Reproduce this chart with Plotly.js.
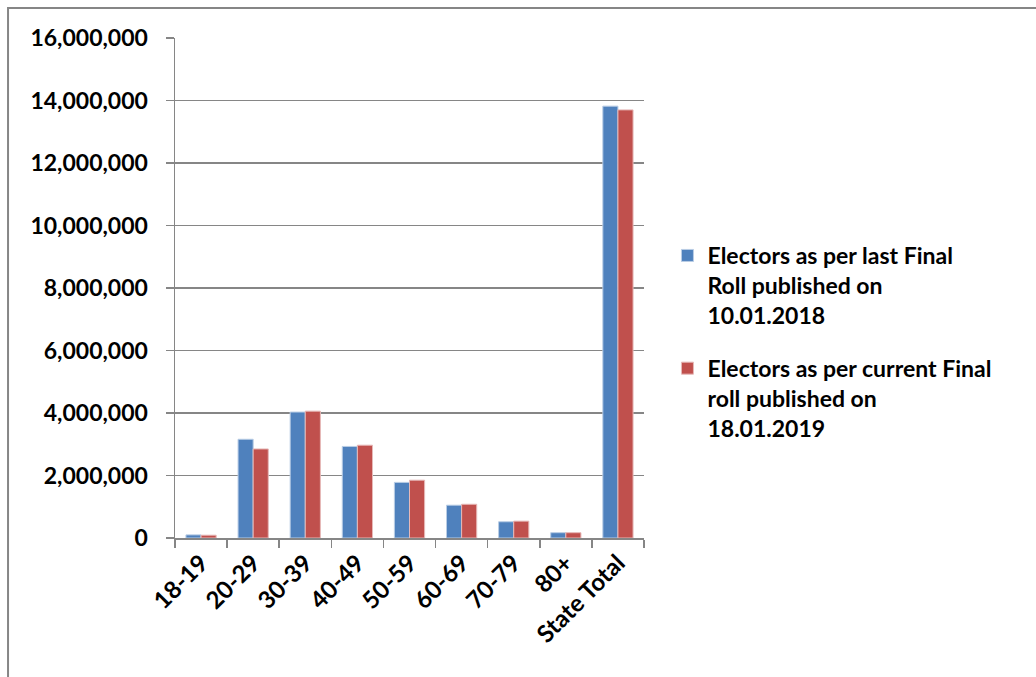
<!DOCTYPE html>
<html>
<head>
<meta charset="utf-8">
<script src="https://cdn.plot.ly/plotly-3.0.1.min.js"></script>
<style>html,body{margin:0;padding:0;background:#fff;}#chart{width:1036px;height:677px;}</style>
</head>
<body>
<div id="chart"></div>
<script>
const categories = ["18-19", "20-29", "30-39", "40-49", "50-59", "60-69", "70-79", "80+", "State Total"];
const electors2018 = [100000, 3160000, 4030000, 2930000, 1780000, 1050000, 520000, 170000, 13820000];
const electors2019 = [90000, 2850000, 4060000, 2970000, 1850000, 1080000, 540000, 170000, 13700000];
const seriesNames = [
  "Electors as per last Final<br>Roll published on<br>10.01.2018",
  "Electors as per current Final<br>roll published on<br>18.01.2019"
];

const fontFamily = "Lato, 'Open Sans', sans-serif";
const traces = [
  {type: "bar", x: categories, y: electors2018, name: seriesNames[0], legendgroup: "g1",
   marker: {color: "#4F81BD", line: {color: "#B9CDE5", width: 1}}},
  {type: "bar", x: categories, y: electors2019, name: seriesNames[1], legendgroup: "g2",
   marker: {color: "#C0504D", line: {color: "#E6B9B8", width: 1}}}
];

const layout = {
  width: 1036, height: 677,
  margin: {l: 175, r: 392, t: 38, b: 139},
  paper_bgcolor: "#fff", plot_bgcolor: "#fff",
  font: {family: fontFamily, size: 23, color: "#000", weight: "bold"},
  barmode: "group", bargap: 0.42, bargroupgap: 0,
  showlegend: true,
  legend: {x: 1.05, y: 0.608, xanchor: "left", yanchor: "top", valign: "top",
           traceorder: "grouped",
           font: {family: fontFamily, size: 23, color: "#000", weight: "bold"},
           tracegroupgap: 20, itemwidth: 30, bgcolor: "rgba(0,0,0,0)"},
  xaxis: {type: "category", tickson: "boundaries", ticks: "outside", ticklen: 8,
          tickcolor: "#868686", tickwidth: 1.5, showline: true, linecolor: "#868686", linewidth: 1.5,
          tickangle: -45, showgrid: false, zeroline: false,
          tickfont: {family: fontFamily, size: 24, color: "#000", weight: "bold"}},
  yaxis: {range: [0, 16000000], dtick: 2000000, tickformat: ",d", ticks: "outside", ticklen: 8,
          tickcolor: "#868686", tickwidth: 1.5, showline: true, linecolor: "#868686", linewidth: 1.5,
          showgrid: true, gridcolor: "#868686", gridwidth: 1.5, zeroline: false, ticklabelstandoff: 13,
          tickfont: {family: fontFamily, size: 23, color: "#000", weight: "bold"}},
  shapes: [{type: "rect", xref: "paper", yref: "paper", x0: -0.356, x1: 3, y0: -0.5, y1: 1.06,
            line: {color: "#868686", width: 2}, fillcolor: "rgba(0,0,0,0)", layer: "below"}]
};

Plotly.newPlot("chart", traces, layout, {displayModeBar: false, staticPlot: true});
</script>
</body>
</html>
